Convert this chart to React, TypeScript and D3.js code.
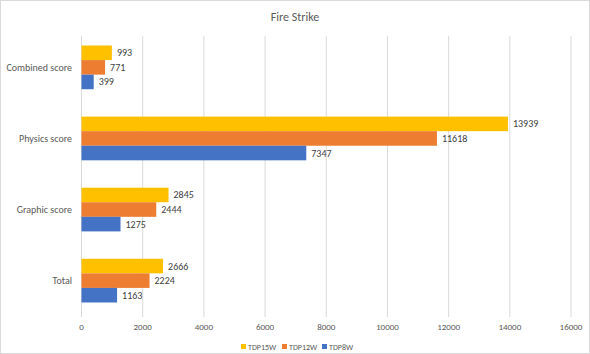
import { useEffect, useRef } from "react";
import * as d3 from "d3";

const categories = ["Combined score", "Physics score", "Graphic score", "Total"];
const seriesNames = ["TDP15W", "TDP12W", "TDP8W"];
const tdp15 = [993, 13939, 2845, 2666];
const tdp12 = [771, 11618, 2444, 2224];
const tdp8 = [399, 7347, 1275, 1163];
const xTicks = [0, 2000, 4000, 6000, 8000, 10000, 12000, 14000, 16000];
const colors = ["#FFC000", "#ED7D31", "#4472C4"];

const width = 590;
const height = 354;
const margin = { top: 32, right: 19, bottom: 38, left: 81.5 };
const font = "Calibri, Carlito, 'Open Sans', sans-serif";

function App() {
	const ref = useRef<SVGSVGElement>(null);

	useEffect(() => {
		const svg = d3.select(ref.current);
		svg.selectAll("*").remove();

		const series = [tdp15, tdp12, tdp8];

		svg.append("rect")
			.attr("x", 0.5)
			.attr("y", 0.5)
			.attr("width", width - 1)
			.attr("height", height - 1)
			.attr("fill", "white")
			.attr("stroke", "#d9d9d9");

		const x = d3.scaleLinear().domain([0, 16000]).range([margin.left, width - margin.right]);
		const y = d3
			.scaleBand<string>()
			.domain(categories)
			.range([margin.top, height - margin.bottom])
			.paddingInner(0.385)
			.paddingOuter(0.19);
		const inner = d3.scaleBand<number>().domain([0, 1, 2]).range([0, y.bandwidth()]);

		// gridlines
		svg.append("g")
			.selectAll("line")
			.data(xTicks)
			.join("line")
			.attr("x1", (d) => x(d))
			.attr("x2", (d) => x(d))
			.attr("y1", 36)
			.attr("y2", 317)
			.attr("stroke", "#d9d9d9")
			.attr("stroke-width", 1);

		// tick labels
		svg.append("g")
			.selectAll("text")
			.data(xTicks)
			.join("text")
			.attr("x", (d) => x(d))
			.attr("y", 330)
			.attr("text-anchor", "middle")
			.attr("font-family", font)
			.attr("font-size", 9)
			.attr("fill", "#595959")
			.text((d) => String(d));

		// category labels
		svg.append("g")
			.selectAll("text")
			.data(categories)
			.join("text")
			.attr("x", 72)
			.attr("y", (d) => y(d)! + y.bandwidth() / 2)
			.attr("dy", "0.35em")
			.attr("text-anchor", "end")
			.attr("font-family", font)
			.attr("font-size", 10)
			.attr("fill", "#595959")
			.text((d) => d);

		// bars
		series.forEach((vals, si) => {
			const g = svg.append("g");
			g.selectAll("rect")
				.data(vals)
				.join("rect")
				.attr("x", x(0))
				.attr("y", (_, i) => y(categories[i])! + inner(si)!)
				.attr("width", (d) => x(d) - x(0))
				.attr("height", inner.bandwidth())
				.attr("fill", colors[si]);
			g.selectAll("text")
				.data(vals)
				.join("text")
				.attr("x", (d) => x(d) + 5)
				.attr("y", (_, i) => y(categories[i])! + inner(si)! + inner.bandwidth() / 2)
				.attr("dy", "0.35em")
				.attr("font-family", font)
				.attr("font-size", 10)
				.attr("fill", "#404040")
				.text((d) => String(d));
		});

		// title
		svg.append("text")
			.attr("x", 295)
			.attr("y", 21)
			.attr("text-anchor", "middle")
			.attr("font-family", font)
			.attr("font-size", 12)
			.attr("fill", "#595959")
			.text("Fire Strike");

		// legend
		const legendX = [241, 282, 322];
		const legend = svg
			.append("g")
			.selectAll("g")
			.data(seriesNames)
			.join("g")
			.attr("transform", (_, i) => `translate(${legendX[i]}, 347)`);
		legend
			.append("rect")
			.attr("x", 0)
			.attr("y", -3)
			.attr("width", 5)
			.attr("height", 5)
			.attr("fill", (_, i) => colors[i]);
		legend
			.append("text")
			.attr("x", 7)
			.attr("y", 0)
			.attr("dy", "0.35em")
			.attr("font-family", font)
			.attr("font-size", 8)
			.attr("fill", "#595959")
			.text((d) => d);
	}, []);

	return (
		<svg
			ref={ref}
			width={width}
			height={height}
			style={{ position: "absolute", left: 0, top: 0 }}
		/>
	);
}

export default App;
